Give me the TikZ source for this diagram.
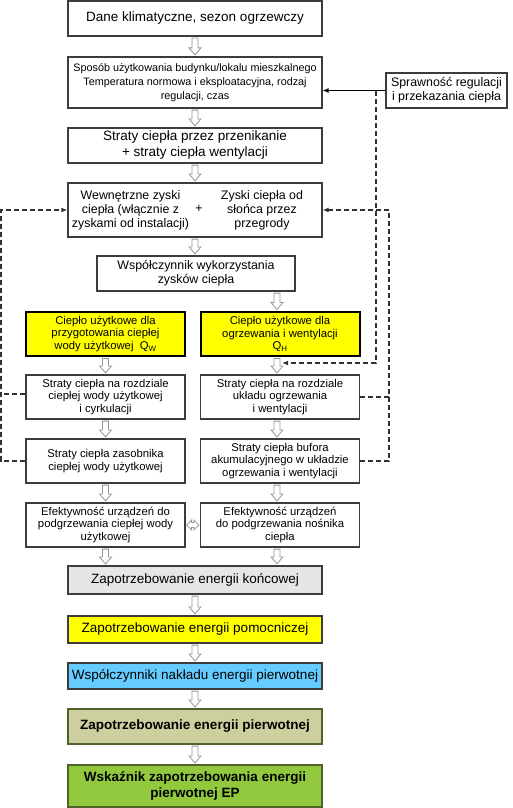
\documentclass[tikz,border=0pt]{standalone}
\usepackage{fontspec}
\setmainfont{Liberation Sans}
\usetikzlibrary{calc,arrows.meta}
\definecolor{boxline}{RGB}{60,60,60}
\definecolor{arrowgray}{RGB}{150,150,150}
\definecolor{dashgray}{RGB}{50,50,50}
\definecolor{endgray}{RGB}{230,230,230}
\definecolor{auxyellow}{RGB}{255,255,0}
\definecolor{factblue}{RGB}{102,204,255}
\definecolor{primkhaki}{RGB}{206,207,158}
\definecolor{epgreen}{RGB}{146,200,62}
\definecolor{oliveline}{RGB}{79,98,40}
\newcommand{\fbig}{\fontsize{13.5}{16}\selectfont}
\newcommand{\fmid}{\fontsize{12.4}{14.2}\selectfont}
\newcommand{\fsmall}{\fontsize{11.3}{12.9}\selectfont}
\newcommand{\ftiny}{\fontsize{10.8}{14.2}\selectfont}
\tikzset{
  box/.style={draw=boxline, line width=1.2pt, fill=white, inner sep=0pt, align=center},
  wide/.style={box, minimum width=254pt},
  half/.style={box, minimum width=159pt, minimum height=44pt, font=\fsmall},
  qbox/.style={half, draw=black, line width=2pt, fill=auxyellow},
  hollow/.style={draw=arrowgray, fill=white, line width=0.8pt,
    to path={let \p1=(\tikztostart), \p2=(\tikztotarget) in
      (\x1-3pt,\y1-1.5pt) -- (\x1+3pt,\y1-1.5pt) -- (\x1+3pt,\y2+8.5pt) -- (\x1+6pt,\y2+8.5pt)
      -- (\x1,\y2+1.5pt) -- (\x1-6pt,\y2+8.5pt) -- (\x1-3pt,\y2+8.5pt) -- cycle}},
  hollowlr/.style={draw=arrowgray, fill=white, line width=0.8pt,
    to path={let \p1=(\tikztostart), \p2=(\tikztotarget) in
      (\x1+1pt,\y1) -- (\x1+6pt,\y1+5pt) -- (\x1+6pt,\y1+2.5pt) -- (\x2-6pt,\y1+2.5pt)
      -- (\x2-6pt,\y1+5pt) -- (\x2-1pt,\y1) -- (\x2-6pt,\y1-5pt) -- (\x2-6pt,\y1-2.5pt)
      -- (\x1+6pt,\y1-2.5pt) -- (\x1+6pt,\y1-5pt) -- cycle}},
  dashline/.style={draw=dashgray, line width=1.2pt, dash pattern=on 5pt off 3pt},
  tip/.style={-{Latex[length=6pt,width=5pt]}}
}
\begin{document}
\begin{tikzpicture}[x=1pt,y=-1pt]
\useasboundingbox (0,0) rectangle (512,808);
\node[wide, minimum height=35pt, font=\fbig] (clim) at (195,18.5){Dane klimatyczne, sezon ogrzewczy};
\node[wide, minimum height=51pt, font=\ftiny] (use) at (195,82.5){Sposób użytkowania budynku/lokalu mieszkalnego\\Temperatura normowa i eksploatacyjna, rodzaj\\regulacji, czas};
\node[box, minimum width=121pt, minimum height=35pt, font=\fmid] (eff) at (446.5,90.5){Sprawność regulacji\\i przekazania ciepła};
\node[wide, minimum height=35pt, font=\fbig] (loss) at (195,145.5){Straty ciepła przez przenikanie\\+ straty ciepła wentylacji};
\node[wide, minimum height=54pt] (gain) at (195,210){};
\node[font=\fmid, align=center] (gainin) at (130.5,210){Wewnętrzne zyski\\ciepła (włącznie z\\zyskami od instalacji)};
\node[font=\fmid] (plus) at (199,209){+};
\node[font=\fmid, align=center] (gainsun) at (262,210){Zyski ciepła od\\słońca przez\\przegrody};
\node[box, minimum width=198pt, minimum height=35pt, font=\fmid] (util) at (196,273.5){Współczynnik wykorzystania\\zysków ciepła};
\node[qbox] (qw) at (105.5,334){Ciepło użytkowe dla\\przygotowania ciepłej\\wody użytkowej~~Q\textsubscript{W}};
\node[qbox] (qh) at (280,334){Ciepło użytkowe dla\\ogrzewania i wentylacji\\Q\textsubscript{H}};
\node[half] (distw) at (105.5,397){Straty ciepła na rozdziale\\ciepłej wody użytkowej\\i cyrkulacji};
\node[half] (disth) at (280,397){Straty ciepła na rozdziale\\układu ogrzewania\\i wentylacji};
\node[half] (storw) at (105.5,461){Straty ciepła zasobnika\\ciepłej wody użytkowej};
\node[half] (storh) at (280,461){Straty ciepła bufora\\akumulacyjnego w układzie\\ogrzewania i wentylacji};
\node[half] (genw) at (105.5,525){Efektywność urządzeń do\\podgrzewania ciepłej wody\\użytkowej};
\node[half] (genh) at (280,525){Efektywność urządzeń\\do podgrzewania nośnika\\ciepła};
\node[wide, minimum height=28pt, fill=endgray, font=\fbig] (fin) at (195,580){Zapotrzebowanie energii końcowej};
\node[wide, minimum height=27pt, fill=auxyellow, font=\fbig] (aux) at (195,629.5){Zapotrzebowanie energii pomocniczej};
\node[wide, minimum height=26pt, fill=factblue, font=\fbig] (fact) at (195,676){Współczynniki nakładu energii pierwotnej};
\node[wide, minimum height=35pt, fill=primkhaki, draw=oliveline, font=\fbig\bfseries] (prim) at (195,726.5){Zapotrzebowanie energii pierwotnej};
\node[wide, minimum height=42pt, fill=epgreen, draw=oliveline, font=\fbig\bfseries] (ep) at (195,786){Wskaźnik zapotrzebowania energii\\pierwotnej EP};
\draw[hollow] (clim.south) to (use.north);
\draw[hollow] (use.south) to (loss.north);
\draw[hollow] (loss.south) to (gain.north);
\draw[hollow] (gain.south) to (gain.south |- util.north);
\draw[hollow] ([xshift=-3pt]qh.north |- util.south) to ([xshift=-3pt]qh.north);
\draw[hollow] (qw.south) to (distw.north);
\draw[hollow] ([xshift=-3pt]qh.south) to ([xshift=-3pt]disth.north);
\draw[hollow] (distw.south) to (storw.north);
\draw[hollow] ([xshift=-3pt]disth.south) to ([xshift=-3pt]storh.north);
\draw[hollow] (storw.south) to (genw.north);
\draw[hollow] ([xshift=-3pt]storh.south) to ([xshift=-3pt]genh.north);
\draw[hollow] (genw.south) to (genw.south |- fin.north);
\draw[hollow] ([xshift=-3pt]genh.south) to ([xshift=-3pt]genh.south |- fin.north);
\draw[hollow] (fin.south) to (aux.north);
\draw[hollow] (aux.south) to (fact.north);
\draw[hollow] (fact.south) to (prim.north);
\draw[hollow] (prim.south) to (ep.north);
\draw[hollowlr] (genw.east) to (genh.west);
\draw[tip, line width=1pt] (eff.west) -- (eff.west -| use.east);
\coordinate (dtop) at (376,91);
\coordinate (qin) at (282,363);
\draw[dashline, tip] (dtop) |- (qin);
\coordinate (lx) at (1,210);
\draw[dashline, tip] (storw.west) -| (lx) -- (gain.west);
\draw[dashline] ([yshift=3pt]distw.west) -- ([yshift=3pt]distw.west -| lx);
\coordinate (rx) at (389,210);
\draw[dashline, tip] (storh.east) -| (rx) -- (gain.east);
\draw[dashline] (disth.east) -- (disth.east -| rx);
\end{tikzpicture}
\end{document}
